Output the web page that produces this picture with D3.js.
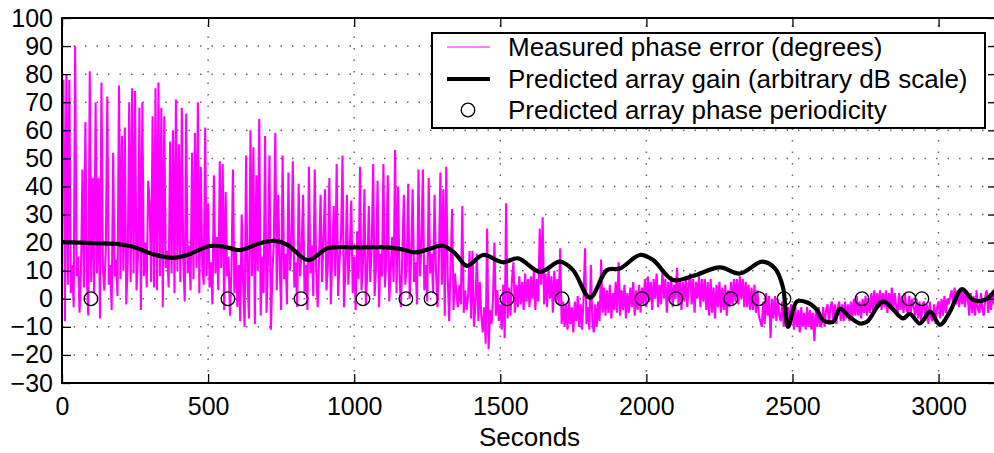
<!DOCTYPE html>
<html>
<head>
<meta charset="utf-8">
<script src="https://cdn.jsdelivr.net/npm/d3@7"></script>
<style>
  body { margin: 0; background: #fff; }
  text { font-family: "Liberation Sans", Arial, Helvetica, sans-serif; fill: #000; }
</style>
</head>
<body>
<script>
// Axis ticks
var xTicks = [0, 500, 1000, 1500, 2000, 2500, 3000];
var yTicks = [-30, -20, -10, 0, 10, 20, 30, 40, 50, 60, 70, 80, 90, 100];

// Measured phase error (degrees), one sample every 5 seconds from t = 0
var phaseStep = 5;
var phaseError = [
  60, 78, -8, 80, 5, 78, 2, 12, -3, 90, 8, 15, -5, 10, 46, 4, 63, 8, -6, 81,
  6, 43, 2, 70, 9, 43, -7, 77, 11, 3, 18, 72, 5, 12, -4, 52, 8, 14, 1, 76,
  7, 58, 10, 61, -2, 13, 70, 6, 75, 9, 74, 3, 15, 68, -4, 70, 8, 20, 4, 42,
  34, 6, 65, 4, 75, 3, 77, 8, 68, -3, 65, 11, 17, 4, 56, 9, 60, 2, 71, 10,
  55, 6, 68, 14, -1, 66, 9, 19, 3, 52, 7, 59, 11, 70, 2, 47, 12, 5, 61, 8,
  34, 4, 13, -2, 44, 9, 22, 3, 49, 11, 48, -4, 38, 8, 15, -6, 10, 46, 2, 18,
  -3, 12, -8, 30, 5, -10, 51, 6, -7, 60, 8, 54, -9, 44, 10, 64, -6, 15, 2, 58,
  -5, 14, 51, -11, 9, 20, 59, 3, 37, 12, -4, 51, 7, 16, -2, 45, 10, 18, 49, 4,
  13, -3, 41, 8, 17, 37, 2, 12, -4, 47, 9, 19, 1, 46, 11, -3, 15, 37, 6, 21,
  39, 3, 12, 43, -2, 16, 33, 8, 48, 1, 14, 22, 51, -3, 10, 37, 5, 18, 35, 2,
  15, -4, 24, 7, 47, 3, 13, 39, -2, 10, 33, 6, 19, 48, 1, 12, 42, -3, 16, 8,
  48, 4, 14, 44, -1, 11, 22, 6, 53, 2, 40, 9, -3, 17, 37, 5, 12, 41, 0, 15,
  39, 6, 13, -2, 46, 8, 18, 46, 3, 12, -1, 43, 9, 16, 2, 37, 10, -3, 14, 45,
  5, 39, -6, 47, 8, -8, 12, 32, -4, 9, 2, -3, 5, -2, 33, -5, 3, -4, 1, 17,
  -7, 17, -10, -2, 16, -8, 6, -6, -12, -3, -16, 25, -18, -4, -9, 0, 20, -6, 3, -8,
  -2, -11, 5, -14, 34, -7, 4, -6, 7, 13, -5, 5, -3, 8, -2, 6, -4, 9, -1, 7,
  -3, 8, 0, 10, -4, 7, -1, 25, 5, 29, -2, 9, -3, 11, 0, 8, -5, 10, -1, 7,
  -2, 18, -9, -1, -10, -2, -11, 0, -9, -3, -12, -1, -8, 1, -10, -2, -11, 0, 18, -9,
  -3, -11, 12, -8, -12, -2, -10, -1, -8, 14, -5, 4, -6, 3, -5, 5, -7, 2, -4, 6,
  -5, 13, -6, 3, -4, 5, -7, 2, -5, 4, -3, 6, -6, 3, -4, 5, -5, 4, -2, 7,
  -3, 8, -1, 6, -4, 7, 0, 9, -3, 5, -2, 10, 0, 7, -5, 6, -1, 8, -3, 5,
  0, 11, -2, 7, -4, 6, -1, 8, -3, 5, 9, -2, 7, -5, 6, 0, 8, -3, 7, -1,
  7, -4, 6, -6, 7, -5, 4, -7, 5, -3, 6, -5, 4, -4, 5, -6, 3, -3, 6, -2,
  7, -1, 7, -2, 8, 0, 7, -3, 6, -3, 5, -4, 4, -4, 5, -5, 3, -6, -8, -10,
  -1, -9, 2, -6, 1, -14, 0, -7, 1, -8, 0, -6, -8, -1, -10, -2, -9, -3, -10, -2,
  -4, -11, -3, -10, -4, -12, -3, -10, -5, -11, -3, -10, -4, -11, -5, -15, -4, -10, -3, -10,
  -9, -3, -10, -4, -2, -9, -3, -1, -8, -2, -9, -3, -1, -8, -2, -8, -1, -7, -2, -8,
  -1, -7, 0, -6, 1, -6, -1, -7, 0, -5, 1, -6, 0, -5, 2, -4, 3, -4, 2, -3,
  3, -4, 2, -3, 3, -5, 2, -3, 4, -4, 2, -3, -5, 2, -4, 1, -5, 2, -4, -5,
  1, -5, 0, -3, -6, 0, -7, -1, -8, -2, -1, -8, -2, -9, -1, -7, -8, -2, -9, -3,
  -1, -7, 0, -6, 1, -5, 0, -2, 1, 3, -3, 4, -2, 3, -3, 4, -2, 3, -3, 2,
  0, -6, 2, -5, 1, -6, 3, -4, -5, 2, -4, -6, 1, 3, -5, 2, -4, 3, -2, 2
];

// Predicted array gain (arbitrary dB scale)
var gainTime = [0, 106, 198, 243, 311, 380, 428, 507, 565, 609, 678, 729, 773, 842, 910,
  1003, 1116, 1164, 1208, 1253, 1304, 1345, 1386, 1441, 1509, 1561, 1636, 1704, 1749, 1807,
  1865, 1910, 1978, 2023, 2091, 2159, 2252, 2320, 2396, 2440, 2467, 2485, 2515, 2553, 2584,
  2604, 2639, 2663, 2697, 2731, 2755, 2810, 2878, 2902, 2936, 2971, 3005, 3039, 3080, 3118,
  3159, 3200];
var gainValue = [20.2, 19.8, 19.4, 18.5, 15.9, 14.6, 15.6, 18.8, 18.3, 17.3, 19.8, 20.6, 19.1, 13.8, 18.0,
  18.3, 18.3, 17.6, 16.5, 17.6, 18.9, 16.2, 11.7, 15.6, 13.0, 14.4, 9.6, 13.2, 10.2, 0.4,
  10.2, 10.8, 15.6, 13.8, 6.7, 8.1, 11.2, 9.0, 13.2, 10.8, 4.3, -10.0, -1.0, -1.4, -4.0,
  -7.6, -8.2, -3.6, -6.6, -8.8, -8.2, -1.0, -7.0, -5.4, -8.8, -4.6, -9.3, -4.6, 3.4, -0.4,
  -0.4, 3.7];

// Predicted array phase periodicity (seconds)
var periodTime = [99, 568, 818, 1030, 1177, 1263, 1523, 1711, 1985, 2101, 2289, 2385, 2471, 2738, 2899, 2943];
var periodValue = 0;

var legendLabels = [
  "Measured phase error (degrees)",
  "Predicted array gain (arbitrary dB scale)",
  "Predicted array phase periodicity"
];

(function(){
  var w = 994, h = 453;
  var mLeft = 62, mRight = 997, mTop = 18, mBottom = 383;

  var svg = d3.select("body").append("svg")
    .attr("width", w)
    .attr("height", h);

  var x = d3.scaleLinear().domain([0, 3200]).range([mLeft, mRight]);
  var y = d3.scaleLinear().domain([-30, 100]).range([mBottom, mTop]);

  svg.append("defs").append("clipPath").attr("id", "plotClip")
    .append("rect")
    .attr("x", mLeft).attr("y", mTop)
    .attr("width", mRight - mLeft).attr("height", mBottom - mTop);

  // Dotted grid
  var grid = svg.append("g").attr("class", "grid")
    .attr("stroke", "#666")
    .attr("stroke-width", 1.5)
    .attr("stroke-dasharray", "1.5,10");

  grid.selectAll(".gx").data(xTicks).enter().append("line")
    .attr("x1", function(d){ return x(d); })
    .attr("x2", function(d){ return x(d); })
    .attr("y1", mBottom).attr("y2", mTop);

  grid.selectAll(".gy").data(yTicks).enter().append("line")
    .attr("y1", function(d){ return y(d); })
    .attr("y2", function(d){ return y(d); })
    .attr("x1", mLeft).attr("x2", mRight);

  var plot = svg.append("g").attr("clip-path", "url(#plotClip)");

  // Measured phase error
  var phaseLine = d3.line()
    .x(function(d, i){ return x(i * phaseStep); })
    .y(function(d){ return y(d); });

  plot.append("path")
    .datum(phaseError)
    .attr("d", phaseLine)
    .attr("fill", "none")
    .attr("stroke", "#ff00ff")
    .attr("stroke-width", 2.1)
    .attr("stroke-linejoin", "bevel");

  // Predicted gain
  var gainLine = d3.line()
    .x(function(d){ return x(d[0]); })
    .y(function(d){ return y(d[1]); })
    .curve(d3.curveCatmullRom.alpha(0.5));

  plot.append("path")
    .datum(d3.zip(gainTime, gainValue))
    .attr("d", gainLine)
    .attr("fill", "none")
    .attr("stroke", "#000")
    .attr("stroke-width", 4.2)
    .attr("stroke-linejoin", "round");

  // Periodicity markers
  plot.selectAll(".period").data(periodTime).enter().append("circle")
    .attr("cx", function(d){ return x(d); })
    .attr("cy", y(periodValue))
    .attr("r", 6.8)
    .attr("fill", "none")
    .attr("stroke", "#000")
    .attr("stroke-width", 1.3);

  // Axes, ticks pointing inward
  function styleAxis(g){
    g.select(".domain").remove();
    g.selectAll(".tick line").attr("stroke", "#000").attr("stroke-width", 1.3);
    g.selectAll(".tick text").style("font-size", "25px").attr("fill", "#000");
  }

  svg.append("g")
    .attr("transform", "translate(0," + mBottom + ")")
    .call(d3.axisBottom(x).tickValues(xTicks).tickSize(-9).tickSizeOuter(0).tickPadding(14)
      .tickFormat(d3.format("d")))
    .call(styleAxis);

  svg.append("g")
    .attr("transform", "translate(" + mLeft + ",0)")
    .call(d3.axisLeft(y).tickValues(yTicks).tickSize(-9).tickSizeOuter(0).tickPadding(9)
      .tickFormat(function(d){ return d < 0 ? "\u2212" + Math.abs(d) : d; }))
    .call(styleAxis);

  svg.append("g")
    .attr("transform", "translate(0," + mTop + ")")
    .call(d3.axisTop(x).tickValues(xTicks).tickSize(-9).tickSizeOuter(0).tickFormat(""))
    .call(styleAxis);

  svg.append("g")
    .attr("transform", "translate(" + mRight + ",0)")
    .call(d3.axisRight(y).tickValues(yTicks).tickSize(-9).tickSizeOuter(0).tickFormat(""))
    .call(styleAxis);

  // Frame
  svg.append("rect")
    .attr("x", mLeft).attr("y", mTop)
    .attr("width", mRight - mLeft).attr("height", mBottom - mTop)
    .attr("fill", "none")
    .attr("stroke", "#000")
    .attr("stroke-width", 2);

  // X label
  svg.append("text")
    .attr("x", (mLeft + mRight) / 2)
    .attr("y", 446)
    .attr("text-anchor", "middle")
    .style("font-size", "26px")
    .text("Seconds");

  // Legend
  var legend = svg.append("g").attr("class", "legend");
  legend.append("rect")
    .attr("x", 432).attr("y", 33)
    .attr("width", 553).attr("height", 95)
    .attr("fill", "#fff")
    .attr("stroke", "#000")
    .attr("stroke-width", 2);

  var rowY = [47, 79, 110];

  legend.append("line")
    .attr("x1", 447).attr("x2", 490)
    .attr("y1", rowY[0]).attr("y2", rowY[0])
    .attr("stroke", "#ff00ff").attr("stroke-width", 1.2);

  legend.append("line")
    .attr("x1", 447).attr("x2", 490)
    .attr("y1", rowY[1]).attr("y2", rowY[1])
    .attr("stroke", "#000").attr("stroke-width", 4.2);

  legend.append("circle")
    .attr("cx", 468).attr("cy", rowY[2]).attr("r", 6.8)
    .attr("fill", "none").attr("stroke", "#000").attr("stroke-width", 1.3);

  legend.selectAll(".label").data(legendLabels).enter().append("text")
    .attr("x", 508)
    .attr("y", function(d, i){ return rowY[i]; })
    .attr("dy", "0.36em")
    .style("font-size", "26px")
    .text(function(d){ return d; });
})();
</script>
</body>
</html>
